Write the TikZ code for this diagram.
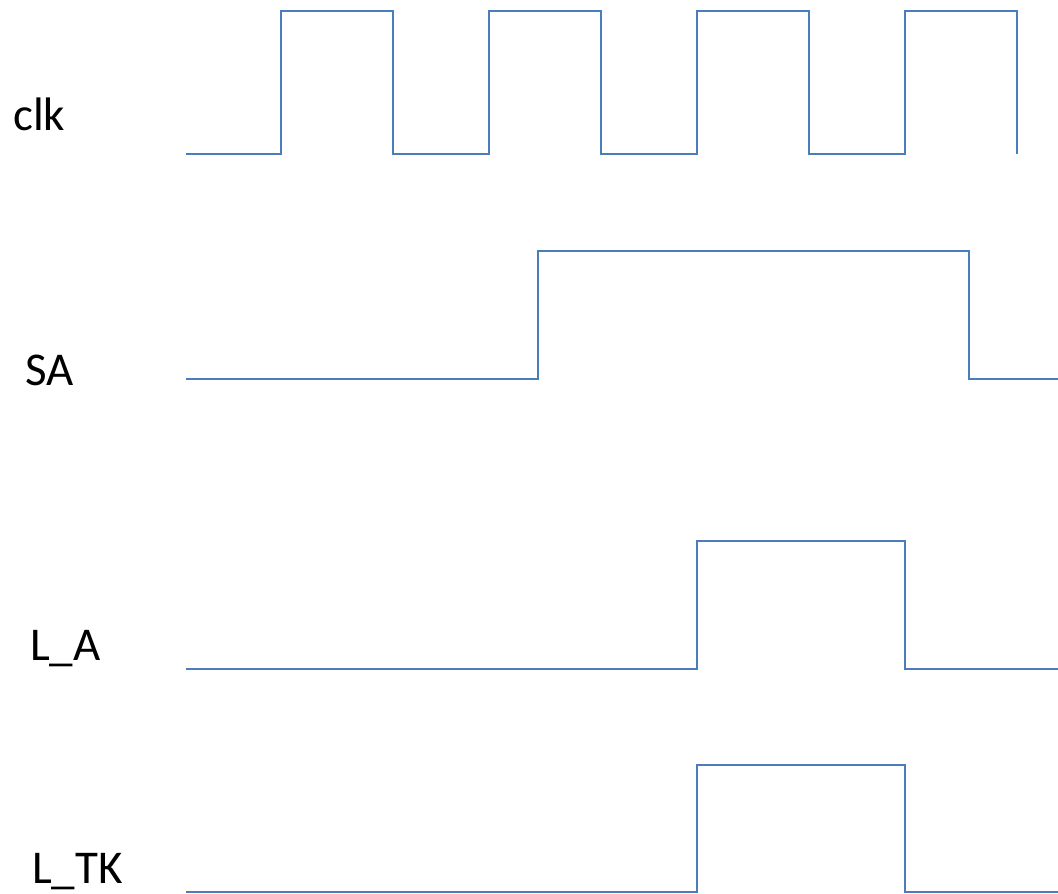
\documentclass[tikz,border=0pt]{standalone}
\usepackage{fontspec}
\setmainfont{Carlito}
\definecolor{wave}{RGB}{74,126,187}
\begin{document}
\begin{tikzpicture}[x=1pt,y=-1pt,
  wavestyle/.style={draw=wave,line width=2.4pt,line join=miter},
  sig/.style={anchor=base west,inner sep=0pt,font=\fontsize{47}{50}\selectfont}]
\useasboundingbox (0,0) rectangle (1058,894);
\node[sig] (clk) at (13,130) {clk};
\node[sig] (sa) at (25,385) {SA};
\node[sig] (la) at (30,660) {L\_A};
\node[sig] (ltk) at (32,883) {L\_TK};
% clk
\draw[wavestyle] (186,154) -- (281,154) -- (281,11) -- (393,11) -- (393,154)
  -- (489,154) -- (489,11) -- (601,11) -- (601,154)
  -- (697,154) -- (697,11) -- (809,11) -- (809,154)
  -- (905,154) -- (905,11) -- (1017,11) -- (1017,154);
% SA
\draw[wavestyle] (186,379) -- (538,379) -- (538,251) -- (969,251) -- (969,379) -- (1058,379);
% L_A
\draw[wavestyle] (186,669) -- (697,669) -- (697,541) -- (905,541) -- (905,669) -- (1058,669);
% L_TK
\draw[wavestyle] (186,892) -- (697,892) -- (697,765) -- (905,765) -- (905,892) -- (1058,892);
\end{tikzpicture}
\end{document}
